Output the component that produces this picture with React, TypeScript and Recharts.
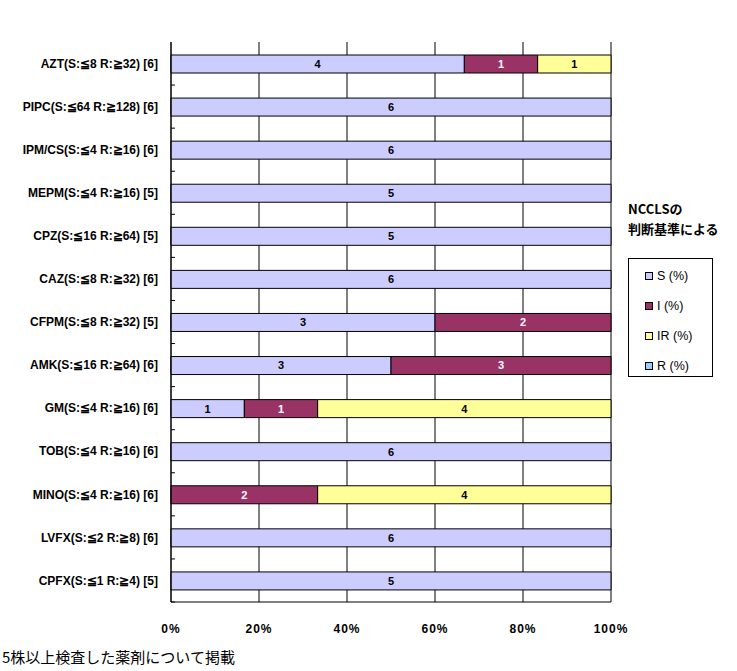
import { BarChart, Bar, XAxis, YAxis, CartesianGrid, Legend, LabelList } from 'recharts';

// drug names with NCCLS breakpoints and [number of strains]
const drugs = [
  'AZT(S:≦8 R:≧32) [6]',
  'PIPC(S:≦64 R:≧128) [6]',
  'IPM/CS(S:≦4 R:≧16) [6]',
  'MEPM(S:≦4 R:≧16) [5]',
  'CPZ(S:≦16 R:≧64) [5]',
  'CAZ(S:≦8 R:≧32) [6]',
  'CFPM(S:≦8 R:≧32) [5]',
  'AMK(S:≦16 R:≧64) [6]',
  'GM(S:≦4 R:≧16) [6]',
  'TOB(S:≦4 R:≧16) [6]',
  'MINO(S:≦4 R:≧16) [6]',
  'LVFX(S:≦2 R:≧8) [6]',
  'CPFX(S:≦1 R:≧4) [5]',
];

// strain counts per category (bars are normalised to 100%)
const sCounts = [4, 6, 6, 5, 5, 6, 3, 3, 1, 6, 0, 6, 5];
const iCounts = [1, 0, 0, 0, 0, 0, 2, 3, 1, 0, 2, 0, 0];
const irCounts = [1, 0, 0, 0, 0, 0, 0, 0, 4, 0, 4, 0, 0];
const rCounts = [0, 0, 0, 0, 0, 0, 0, 0, 0, 0, 0, 0, 0];

const seriesNames = ['S (%)', 'I (%)', 'IR (%)', 'R (%)'];
const xTicks = [0, 0.2, 0.4, 0.6, 0.8, 1];

const data = drugs.map((name, i) => ({
  name,
  S: sCounts[i],
  I: iCounts[i],
  IR: irCounts[i],
  R: rCounts[i],
}));

const PLOT_TOP = 42;
const PLOT_HEIGHT = 560;
const band = PLOT_HEIGHT / drugs.length;

const labelFont = { fontFamily: '"Liberation Sans", Arial, sans-serif', fontWeight: 700 };

function DrugTick(props: any) {
  const { x, y, payload } = props;
  return (
    <g>
      <text x={x} y={y} dy="0.35em" textAnchor="end" fontSize={12} fill="#000" style={labelFont}>
        {payload.value}
      </text>
      <line x1={x + 13} x2={x + 17} y1={y + band / 2} y2={y + band / 2} stroke="#000" />
    </g>
  );
}

function LegendBox(props: any) {
  const items = [...(props.payload || [])].sort(
    (a: any, b: any) => seriesNames.indexOf(a.value) - seriesNames.indexOf(b.value)
  );
  return (
    <div
      style={{
        border: '1px solid #000',
        boxSizing: 'border-box',
        width: 85,
        height: 119,
        padding: '2px 0 0 16px',
        background: '#fff',
      }}
    >
      {items.map((p: any) => (
        <div key={p.value} style={{ display: 'flex', alignItems: 'center', height: 30 }}>
          <span
            style={{
              width: 6,
              height: 6,
              border: '1px solid #000',
              background: p.color,
              marginRight: 4,
              display: 'inline-block',
            }}
          />
          <span style={{ fontSize: 12.5, fontFamily: '"Liberation Sans", Arial, sans-serif', color: '#000' }}>
            {p.value}
          </span>
        </div>
      ))}
    </div>
  );
}

const hideZero = (v: any) => (v ? v : '');

export default function App() {
  return (
    <div style={{ position: 'relative', width: 737, height: 671, background: '#fff' }}>
      <style>{`body{margin:0;background:#fff}`}</style>
      <BarChart
        width={737}
        height={671}
        data={data}
        layout="vertical"
        stackOffset="expand"
        barSize={18}
        margin={{ top: PLOT_TOP, right: 126, bottom: 39, left: 0 }}
      >
        <CartesianGrid horizontal={false} stroke="#000" strokeWidth={1} />
        <XAxis
          type="number"
          domain={[0, 1]}
          ticks={xTicks}
          tickFormatter={(v: number) => `${Math.round(v * 100)}%`}
          axisLine={{ stroke: '#000' }}
          tickLine={false}
          tickMargin={16}
          height={30}
          tick={{ fill: '#000', fontSize: 12, fontWeight: 700, fontFamily: '"Liberation Sans", Arial, sans-serif', letterSpacing: 1 }}
        />
        <XAxis xAxisId="top" orientation="top" type="number" domain={[0, 1]} height={0} tick={false} tickLine={false} axisLine={{ stroke: '#000' }} />
        <YAxis
          type="category"
          dataKey="name"
          width={171}
          axisLine={{ stroke: '#000' }}
          tickLine={false}
          tickSize={6}
          tickMargin={7}
          interval={0}
          tick={<DrugTick />}
        />
        <Legend
          layout="vertical"
          align="center"
          verticalAlign="middle"
          itemSorter={null as any}
          content={<LegendBox />}
          wrapperStyle={{ left: 628, top: 258, width: 85, height: 119 }}
        />
        <Bar dataKey="S" name={seriesNames[0]} stackId="a" fill="#CCCCFF" stroke="#000" strokeWidth={1} isAnimationActive={false}>
          <LabelList dataKey="S" position="center" formatter={hideZero} fill="#000" fontSize={11} style={labelFont} />
        </Bar>
        <Bar dataKey="I" name={seriesNames[1]} stackId="a" fill="#993366" stroke="#000" strokeWidth={1} isAnimationActive={false}>
          <LabelList dataKey="I" position="center" formatter={hideZero} fill="#fff" fontSize={11} style={labelFont} />
        </Bar>
        <Bar dataKey="IR" name={seriesNames[2]} stackId="a" fill="#FFFF99" stroke="#000" strokeWidth={1} isAnimationActive={false}>
          <LabelList dataKey="IR" position="center" formatter={hideZero} fill="#000" fontSize={11} style={labelFont} />
        </Bar>
        <Bar dataKey="R" name={seriesNames[3]} stackId="a" fill="#99CCFF" stroke="#000" strokeWidth={1} isAnimationActive={false}>
          <LabelList dataKey="R" position="center" formatter={hideZero} fill="#000" fontSize={11} style={labelFont} />
        </Bar>
      </BarChart>
      <div
        style={{
          position: 'absolute',
          left: 628,
          top: 199,
          fontFamily: '"Noto Sans CJK JP", sans-serif',
          fontWeight: 700,
          fontSize: 13,
          lineHeight: '20px',
          color: '#000',
        }}
      >
        NCCLSの
        <br />
        判断基準による
      </div>
      <div
        style={{
          position: 'absolute',
          left: 2,
          top: 647,
          fontFamily: '"Noto Sans CJK JP", sans-serif',
          fontSize: 15,
          lineHeight: '20px',
          color: '#000',
        }}
      >
        5株以上検査した薬剤について掲載
      </div>
    </div>
  );
}
